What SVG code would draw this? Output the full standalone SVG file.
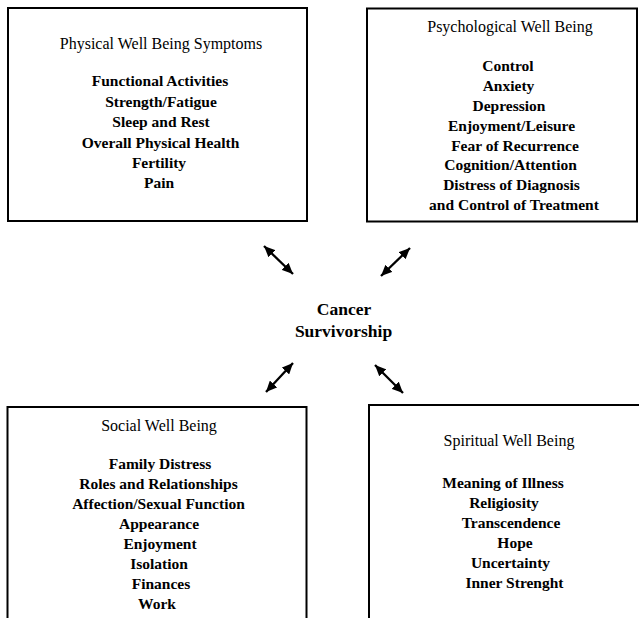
<svg xmlns="http://www.w3.org/2000/svg" width="639" height="618" viewBox="0 0 639 618">
<style>
.box{fill:#fff;stroke:#000;stroke-width:2}
.t{font-family:"Liberation Serif","Times New Roman",serif;font-size:16px;fill:#000;text-anchor:middle}
.i{font-family:"Liberation Serif","Times New Roman",serif;font-size:15.5px;font-weight:bold;fill:#000;text-anchor:middle}
.c{font-family:"Liberation Serif","Times New Roman",serif;font-size:17.5px;font-weight:bold;fill:#000;text-anchor:middle}
.arr{stroke:#000;stroke-width:2.3;fill:none;marker-start:url(#ah);marker-end:url(#ah)}
</style>
<defs>
<marker id="ah" markerUnits="userSpaceOnUse" viewBox="0 0 11 10" refX="11" refY="5" markerWidth="11" markerHeight="10" orient="auto-start-reverse">
<path d="M0,0 L11,5 L0,10 z" fill="#000"/>
</marker>
</defs>
<rect width="639" height="618" fill="#fff"/>
<g id="physical">
<rect class="box" x="8" y="8" width="299" height="213"/>
<text class="t" x="161" y="49">Physical Well Being Symptoms</text>
<text class="i" x="160" y="86">Functional Activities</text>
<text class="i" x="161" y="107">Strength/Fatigue</text>
<text class="i" x="161" y="127">Sleep and Rest</text>
<text class="i" x="160.5" y="148">Overall Physical Health</text>
<text class="i" x="159" y="168">Fertility</text>
<text class="i" x="159" y="188">Pain</text>
</g>
<g id="psychological">
<rect class="box" x="367" y="8.5" width="270" height="213"/>
<text class="t" x="510" y="32">Psychological Well Being</text>
<text class="i" x="508" y="71">Control</text>
<text class="i" x="508.5" y="91">Anxiety</text>
<text class="i" x="509" y="111">Depression</text>
<text class="i" x="511.5" y="131">Enjoyment/Leisure</text>
<text class="i" x="515" y="151">Fear of Recurrence</text>
<text class="i" x="510.5" y="170">Cognition/Attention</text>
<text class="i" x="511.5" y="190">Distress of Diagnosis</text>
<text class="i" x="514" y="210">and Control of Treatment</text>
</g>
<g id="center">
<text class="c" x="344" y="314.5">Cancer</text>
<text class="c" x="343.5" y="337">Survivorship</text>
</g>
<g id="social">
<rect class="box" x="7.5" y="407" width="299" height="230"/>
<text class="t" x="159" y="431">Social Well Being</text>
<text class="i" x="160" y="469">Family Distress</text>
<text class="i" x="158.5" y="489">Roles and Relationships</text>
<text class="i" x="158.5" y="509">Affection/Sexual Function</text>
<text class="i" x="159" y="529">Appearance</text>
<text class="i" x="160" y="549">Enjoyment</text>
<text class="i" x="159" y="569">Isolation</text>
<text class="i" x="161" y="589">Finances</text>
<text class="i" x="157" y="609">Work</text>
</g>
<g id="spiritual">
<rect class="box" x="369" y="405" width="290" height="230"/>
<text class="t" x="509" y="446">Spiritual Well Being</text>
<text class="i" x="503" y="488">Meaning of Illness</text>
<text class="i" x="504" y="508">Religiosity</text>
<text class="i" x="511" y="528">Transcendence</text>
<text class="i" x="515" y="548">Hope</text>
<text class="i" x="510.5" y="568">Uncertainty</text>
<text class="i" x="514.5" y="588">Inner Strenght</text>
</g>
<g id="connectors">
<line class="arr" x1="264" y1="246" x2="293" y2="274"/>
<line class="arr" x1="410" y1="248" x2="381" y2="276"/>
<line class="arr" x1="293" y1="363" x2="266" y2="392"/>
<line class="arr" x1="375" y1="365" x2="403" y2="393"/>
</g>
</svg>
